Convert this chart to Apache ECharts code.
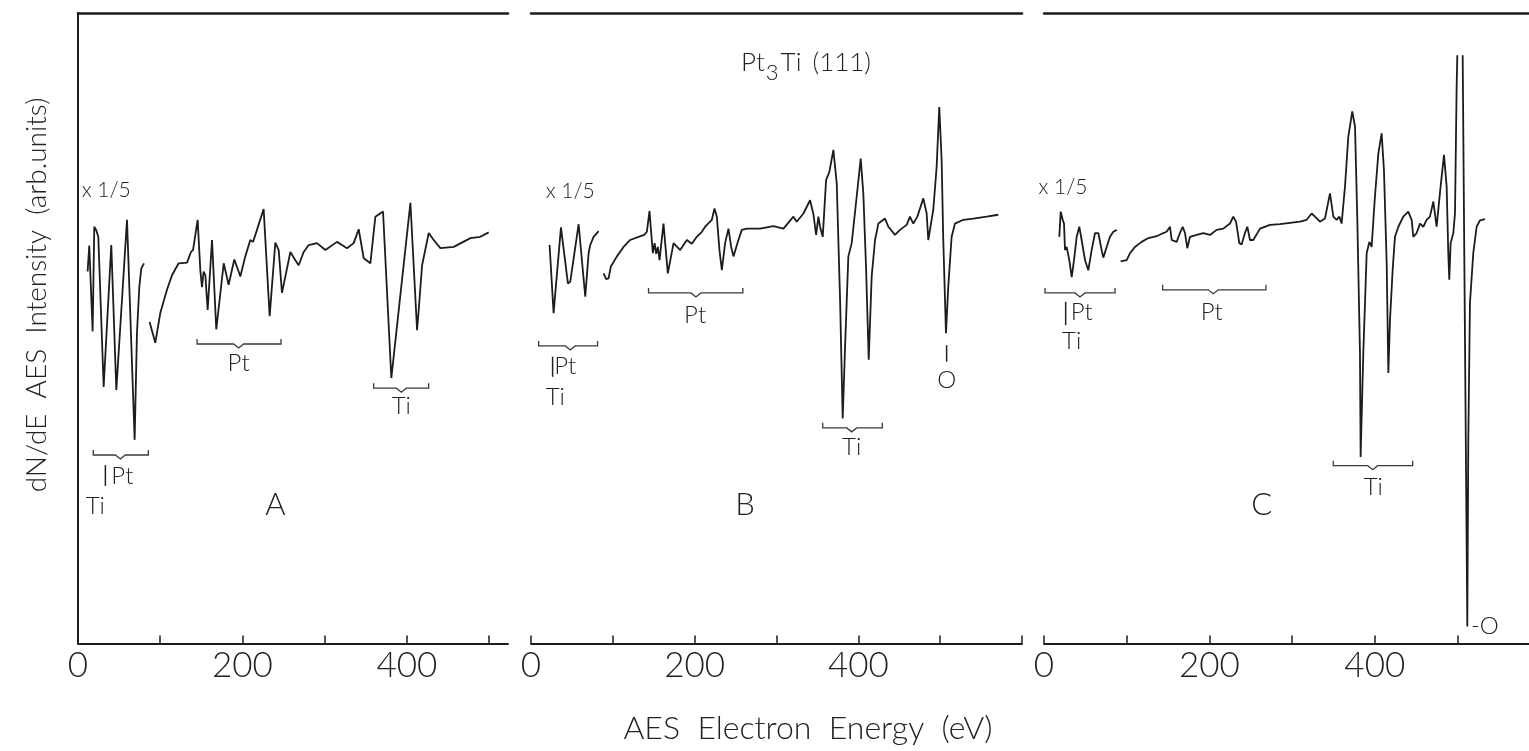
<!DOCTYPE html>
<html>
<head>
<meta charset="utf-8">
<title>Pt3Ti (111) AES</title>
<script src="https://cdn.jsdelivr.net/npm/echarts@6.0.0/dist/echarts.min.js"></script>
<style>
  html, body { margin: 0; padding: 0; background: #fff; }
  #chart { width: 1529px; height: 751px; }
</style>
</head>
<body>
<div id="chart"></div>
<script>
// energy (eV), dN/dE (arb. units, 0 = x axis)
const aLowE = [[11.7,59.0],[13.7,63.1],[15.8,56.1],[17.8,49.5],[19.8,66.1],[22.3,65.5],[24.7,64.5],[31.2,40.7],[40.5,63.2],[46.6,40.2],[59.6,67.2],[68.9,32.3],[71.7,49.2],[74.6,56.6],[77.0,59.5],[80.3,60.3]];
const aMain = [[87.1,51.0],[94.0,47.7],[100.1,52.4],[108.2,56.1],[114.3,58.4],[116.3,58.3],[122.4,60.3],[132.6,60.4],[137.4,62.1],[139.9,62.4],[145.5,67.2],[148.8,59.2],[150.8,56.5],[152.8,59.0],[154.9,58.4],[157.7,52.9],[163.0,64.0],[168.2,49.8],[177.2,60.3],[183.2,56.9],[190.1,60.9],[195.4,59.0],[197.4,58.2],[203.5,61.4],[209.6,64.0],[212.9,63.7],[217.7,65.6],[225.8,68.9],[233.1,51.9],[240.0,63.6],[244.1,62.4],[248.1,55.6],[258.3,62.1],[264.4,60.8],[268.4,60.0],[274.5,62.1],[280.6,63.2],[290.7,63.5],[300.9,62.4],[315.0,63.7],[321.1,63.2],[327.2,62.7],[335.3,63.5],[341.4,65.7],[347.5,61.1],[355.6,60.3],[361.7,67.7],[371.0,68.5],[381.1,42.1],[404.3,69.9],[412.4,49.7],[414.4,52.9],[418.5,60.0],[426.6,65.1],[432.6,64.0],[440.8,62.7],[457.0,62.9],[477.3,64.3],[489.4,64.5],[499.5,65.2]];

const bLowE = [[22.7,63.2],[27.6,52.4],[36.6,66.0],[45.1,57.1],[48.0,57.4],[58.2,66.5],[66.3,55.0],[70.4,61.9],[72.4,63.2],[76.5,64.5],[82.6,65.4]];
const bMain = [[88.7,58.7],[91.9,57.8],[94.8,57.9],[97.6,59.8],[105.0,61.4],[113.1,62.9],[121.2,64.0],[131.4,64.5],[138.3,64.8],[141.6,65.3],[144.8,68.6],[146.9,65.1],[148.9,61.9],[151.0,63.5],[153.0,61.8],[155.0,62.9],[157.1,60.8],[161.9,66.6],[167.2,58.7],[174.2,63.5],[182.3,62.4],[190.4,64.0],[196.5,63.4],[202.6,64.5],[208.8,65.3],[212.8,66.1],[221.0,67.2],[224.2,69.0],[227.1,67.7],[230.3,62.4],[233.2,59.2],[237.2,63.5],[241.3,65.8],[244.6,62.9],[247.4,61.4],[253.5,64.0],[257.6,65.6],[263.7,65.8],[280.0,65.8],[296.3,66.2],[308.5,65.8],[320.7,67.7],[324.7,66.9],[332.9,68.2],[341.0,70.3],[345.1,68.1],[348.4,64.8],[351.2,67.7],[353.2,66.1],[356.5,64.5],[360.6,73.5],[364.6,74.8],[369.5,78.3],[373.6,73.0],[377.7,54.5],[380.9,35.7],[383.8,47.1],[387.8,61.4],[391.9,63.5],[398.0,70.9],[402.9,76.9],[406.1,71.4],[409.4,59.8],[412.7,45.0],[416.3,58.2],[420.4,64.0],[424.5,66.6],[432.6,67.4],[436.7,66.1],[444.8,64.8],[450.9,65.6],[459.1,66.4],[463.1,67.7],[467.2,66.6],[472.1,67.7],[479.4,70.6],[483.5,68.2],[485.5,64.0],[491.6,68.8],[495.7,75.6],[498.9,85.1],[501.8,76.7],[503.8,64.0],[507.1,49.2],[509.9,56.6],[514.0,64.5],[518.1,66.6],[528.2,67.2],[540.4,67.4],[556.7,67.7],[571.0,68.0]];

const cLowE = [[18.5,64.5],[20.2,68.5],[22.6,67.2],[24.2,66.6],[25.4,62.4],[27.4,62.9],[30.6,60.8],[33.5,58.1],[36.3,60.8],[39.5,64.5],[42.7,66.1],[45.5,64.0],[49.6,60.8],[53.6,59.2],[57.6,62.4],[61.7,65.1],[65.7,65.1],[69.7,62.4],[71.7,61.2],[75.8,62.9],[79.8,64.5],[83.8,65.3],[87.9,65.6]];
// the O peak ran off the top of the recorder paper: gap at 502 eV
const cMain = [[92.7,60.6],[100.0,60.8],[104.0,61.9],[110.0,62.9],[118.1,63.7],[126.2,64.3],[136.2,64.6],[144.3,65.1],[148.3,65.3],[152.4,66.1],[154.4,64.0],[160.4,63.7],[164.4,65.1],[167.7,66.1],[170.5,65.1],[173.3,62.7],[176.5,64.5],[184.6,64.8],[192.7,65.1],[200.7,64.8],[208.8,65.6],[216.8,65.8],[224.9,66.6],[228.9,67.7],[232.2,66.9],[236.2,63.5],[239.0,63.3],[243.0,65.1],[245.9,66.1],[249.1,64.0],[253.1,64.0],[261.2,65.8],[273.3,66.4],[285.4,66.5],[297.5,66.7],[309.6,66.9],[317.6,67.2],[323.7,68.2],[327.7,67.7],[333.7,66.9],[339.8,67.4],[345.8,71.4],[349.9,67.7],[353.9,67.2],[357.1,67.7],[359.9,66.6],[364.0,72.5],[368.0,80.4],[372.8,84.4],[376.1,82.0],[378.9,67.2],[382.1,46.0],[382.9,29.6],[386.1,46.0],[390.2,61.9],[393.4,63.7],[396.2,62.9],[400.2,70.9],[404.3,77.7],[408.3,80.9],[411.1,75.1],[414.4,60.3],[416.4,42.9],[418.4,51.3],[421.6,59.2],[424.4,64.5],[428.5,66.1],[434.5,67.7],[440.5,68.5],[444.6,67.2],[446.6,64.5],[450.6,65.1],[454.7,66.6],[458.7,66.1],[462.7,67.2],[466.7,67.7],[470.8,70.1],[474.8,66.1],[479.6,72.5],[483.7,77.5],[486.9,72.5],[488.9,61.9],[490.1,57.7],[491.7,63.5],[495.0,65.1],[497.0,68.2],[499.0,88.3],[499.8,93.3],[502.0,null],[506.3,93.3],[511.9,2.7],[513.1,32.3],[515.1,54.0],[519.1,61.9],[523.2,66.1],[527.2,67.1],[533.2,67.3]];

const tickValues = [0, 100, 200, 300, 400, 500];
const tickValuesB = [0, 100, 200, 300, 400, 500, 600];
const labelValues = [0, 200, 400];

// element brackets: [panel, from eV, to eV, centre eV, level, label, label eV, label level]
const brackets = [
  [0, 18.6, 85.5, 51.5, 29.9],
  [0, 144.8, 246.9, 195.4, 47.5, 'Pt', 195.4, 44.4],
  [0, 359.6, 426.5, 393.3, 40.5, 'Ti', 393.3, 37.6],
  [1, 9.3, 81.3, 48.0, 47.2],
  [1, 143.6, 258.9, 201.5, 55.6, 'Pt', 200.6, 52.1],
  [1, 356.5, 429.3, 391.9, 34.2, 'Ti', 391.9, 31.2],
  [2, 1.2, 85.9, 43.5, 55.6],
  [2, 143.5, 268.4, 204.7, 56.1, 'Pt', 202.8, 52.5],
  [2, 349.8, 445.8, 397.5, 28.2, 'Ti', 398.2, 24.8]
];
// low energy "|Pt / Ti" marks: [panel, bar eV, bar top, bar bottom, Pt eV, Pt level, Ti eV, Ti level]
const lowMarks = [
  [0, 33.3, 28.3, 25.0, 54.0, 26.6, 21.0, 21.8],
  [1, 26.4, 45.5, 42.3, 41.9, 44.0, 29.7, 39.1],
  [2, 26.2, 54.2, 50.5, 45.6, 52.5, 33.5, 48.0]
];
// [panel, eV, level, text]
const scaleNotes = [[0, 34.4, 71.9, 'x 1/5'], [1, 48.0, 71.7, 'x 1/5'], [2, 23.0, 72.3, 'x 1/5']];
const panelNames = [[0, 240.1, 22.0, 'A'], [1, 261.7, 22.0, 'B'], [2, 263.3, 22.0, 'C']];

const INK = '#1c1c1c';
const FONT = 'Lato, "Open Sans", sans-serif';

const panels = [
  { left: 78, width: 430, max: 523, ticks: tickValues, lowE: aLowE, main: aMain },
  { left: 531, width: 491, max: 600, ticks: tickValuesB, lowE: bLowE, main: bMain },
  { left: 1044, width: 485, max: 586.5, ticks: tickValues, lowE: cLowE, main: cMain }
];

const chart = echarts.init(document.getElementById('chart'));

const grid = panels.map(p => ({ left: p.left, top: 13, width: p.width, height: 630.5 }));
const xAxisBottom = panels.map((p, i) => ({
  type: 'value', gridIndex: i, position: 'bottom', min: 0, max: p.max, interval: 100,
  axisLine: { show: true, onZero: false, lineStyle: { color: INK, width: 2 } },
  axisTick: { show: true, inside: true, length: 8, customValues: p.ticks, lineStyle: { color: INK, width: 1.5 } },
  axisLabel: { show: true, customValues: labelValues, margin: 5, fontSize: 35, fontWeight: 300, fontFamily: FONT, color: '#222' },
  splitLine: { show: false }
}));
const xAxisTop = panels.map((p, i) => ({
  type: 'value', gridIndex: i, position: 'top', min: 0, max: p.max,
  axisLine: { show: true, onZero: false, lineStyle: { color: INK, width: 2.5 } },
  axisTick: { show: false }, axisLabel: { show: false }, splitLine: { show: false }
}));
const yAxis = panels.map((p, i) => ({
  type: 'value', gridIndex: i, min: 0, max: 100,
  axisLine: { show: i === 0, lineStyle: { color: INK, width: 2 } },
  axisTick: { show: false }, axisLabel: { show: false }, splitLine: { show: false }
}));

const series = [];
panels.forEach((p, i) => {
  [p.lowE, p.main].forEach(d => {
    series.push({
      type: 'line', xAxisIndex: i, yAxisIndex: i, data: d,
      showSymbol: false, connectNulls: false, silent: true, animation: false,
      lineStyle: { color: INK, width: 1.8 }
    });
  });
});

chart.setOption({
  backgroundColor: '#fff',
  animation: false,
  grid: grid,
  xAxis: xAxisBottom.concat(xAxisTop),
  yAxis: yAxis,
  series: series
});

const px = (g, x, y) => chart.convertToPixel({ xAxisIndex: g, yAxisIndex: g }, [x, y]);
const txt = (x, y, text, size, align) => ({
  type: 'text', x: x, y: y, silent: true,
  style: { text: text, fontSize: size, fontFamily: FONT, fontWeight: 300, fill: '#222', align: align || 'center', verticalAlign: 'middle' }
});

const graphic = [];
brackets.forEach(b => {
  const [g, x1, x2, xc, lvl, label, lx, ly] = b;
  const a = px(g, x1, lvl), c = px(g, xc, lvl), e = px(g, x2, lvl);
  const y = a[1];
  graphic.push({
    type: 'polyline', silent: true,
    shape: { points: [[a[0], y - 5], [a[0], y], [c[0] - 5, y], [c[0], y + 4], [c[0] + 5, y], [e[0], y], [e[0], y - 5]] },
    style: { stroke: '#3a3a3a', lineWidth: 1.3, fill: null }
  });
  if (label) {
    const p = px(g, lx, ly);
    graphic.push(txt(p[0], p[1], label, 24));
  }
});
lowMarks.forEach(m => {
  const [g, bx, bt, bb, ptx, pty, tix, tiy] = m;
  const t = px(g, bx, bt), b = px(g, bx, bb);
  graphic.push({ type: 'line', silent: true, shape: { x1: t[0], y1: t[1], x2: b[0], y2: b[1] }, style: { stroke: '#222', lineWidth: 1.5 } });
  const pt = px(g, ptx, pty), ti = px(g, tix, tiy);
  graphic.push(txt(pt[0], pt[1], 'Pt', 24));
  graphic.push(txt(ti[0], ti[1], 'Ti', 24));
});
scaleNotes.forEach(s => { const p = px(s[0], s[1], s[2]); graphic.push(txt(p[0], p[1], s[3], 21)); });
panelNames.forEach(s => { const p = px(s[0], s[1], s[2]); graphic.push(txt(p[0], p[1], s[3], 31)); });

// oxygen markers
const oTop = px(1, 507.9, 47.3), oBot = px(1, 507.9, 44.7), oLab = px(1, 507.9, 41.8);
graphic.push({ type: 'line', silent: true, shape: { x1: oTop[0], y1: oTop[1], x2: oBot[0], y2: oBot[1] }, style: { stroke: '#222', lineWidth: 1.5 } });
graphic.push(txt(oLab[0], oLab[1], 'O', 24));
const oC = px(2, 516.3, 2.7);
graphic.push(txt(oC[0], oC[1], '-O', 24, 'left'));

// titles
const base = { fontSize: 26, fontFamily: FONT, fontWeight: 300, fill: '#222' };
graphic.push({
  type: 'text', x: 806, y: 63, silent: true,
  style: {
    text: '{a|Pt}{s|3}{a|Ti}{g|}{a|(111)}', align: 'center', verticalAlign: 'middle',
    rich: {
      a: Object.assign({ padding: [0, 1, 0, 1] }, base),
      s: Object.assign({}, base, { fontSize: 22, padding: [20, 1, 0, 0] }),
      g: { width: 9 }
    }
  }
});
graphic.push(txt(808, 729, 'AES  Electron  Energy  (eV)', 32));
graphic.push({
  type: 'text', x: 37, y: 295, rotation: Math.PI / 2, silent: true,
  style: { text: 'dN/dE  AES  Intensity  (arb.units)', fontSize: 28, fontFamily: FONT, fontWeight: 300, fill: '#222', align: 'center', verticalAlign: 'middle' }
});

chart.setOption({ graphic: graphic });
</script>
</body>
</html>
